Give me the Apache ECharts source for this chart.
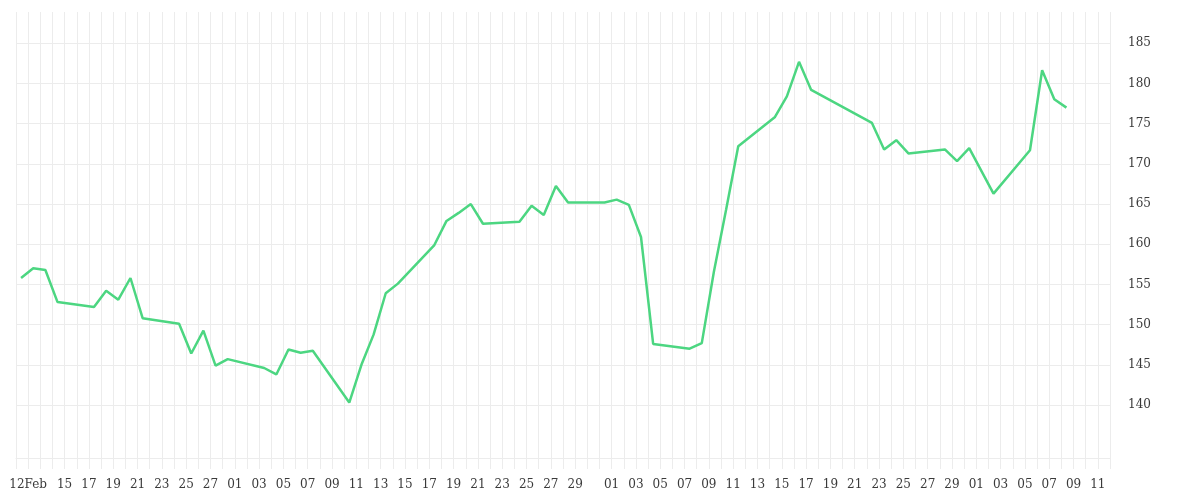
<!DOCTYPE html>
<html>
<head>
<meta charset="utf-8">
<script src="https://cdn.jsdelivr.net/npm/echarts@6/dist/echarts.min.js"></script>
<style>
html,body{margin:0;padding:0;background:#fff;}
#chart{width:1200px;height:500px;}
</style>
</head>
<body>
<div id="chart"></div>
<script>
// Trading dates (2025) and closing values
var dates = [
  '2025-02-11','2025-02-12','2025-02-13','2025-02-14','2025-02-17','2025-02-18','2025-02-19','2025-02-20','2025-02-21',
  '2025-02-24','2025-02-25','2025-02-26','2025-02-27','2025-02-28',
  '2025-03-03','2025-03-04','2025-03-05','2025-03-06','2025-03-07',
  '2025-03-10','2025-03-11','2025-03-12','2025-03-13','2025-03-14',
  '2025-03-17','2025-03-18','2025-03-19','2025-03-20','2025-03-21',
  '2025-03-24','2025-03-25','2025-03-26','2025-03-27','2025-03-28',
  '2025-03-31','2025-04-01','2025-04-02','2025-04-03','2025-04-04',
  '2025-04-07','2025-04-08','2025-04-09','2025-04-10','2025-04-11',
  '2025-04-14','2025-04-15','2025-04-16','2025-04-17',
  '2025-04-22','2025-04-23','2025-04-24','2025-04-25',
  '2025-04-28','2025-04-29','2025-04-30','2025-05-02',
  '2025-05-05','2025-05-06','2025-05-07','2025-05-08'
];
var values = [
  155.8, 157.0, 156.8, 152.8, 152.2, 154.2, 153.1, 155.8, 150.8,
  150.1, 146.4, 149.25, 144.9, 145.7,
  144.6, 143.8, 146.9, 146.5, 146.75,
  140.3, 145.0, 148.75, 153.9, 155.1,
  159.9, 162.9, 163.9, 165.0, 162.55,
  162.8, 164.8, 163.65, 167.25, 165.2,
  165.2, 165.55, 164.9, 160.9, 147.6,
  147.0, 147.7, 156.6, 164.3, 172.2,
  175.8, 178.4, 182.7, 179.2,
  175.1, 171.8, 172.95, 171.3,
  171.8, 170.35, 171.95, 166.3,
  171.7, 181.65, 178.05, 177.0
];
var xStart = '2025-02-11';
var xEnd = '2025-05-12';
var firstLabelDate = '2025-02-12';
var yMin = 133.4, yMax = 188.9;
var yLabelMin = 140, yLabelMax = 185, yStep = 5;

var DAY = 86400000;
var MON = ['Jan','Feb','Mar','Apr','May','Jun','Jul','Aug','Sep','Oct','Nov','Dec'];
function pad(n){ return (n < 10 ? '0' : '') + n; }
var firstLabelTs = Date.parse(firstLabelDate + 'T00:00:00Z');

var seriesData = dates.map(function (d, i) {
  return [Date.parse(d + 'T10:00:00Z'), values[i]];
});

var grid = '#ececec';
var yColors = [];
// one colour per y tick: [min, 135, 140..185, max]
yColors.push(grid);
for (var v = Math.ceil(yMin / yStep) * yStep; v <= yMax; v += yStep) {
  yColors.push(v >= yLabelMin && v <= yLabelMax ? grid : 'rgba(0,0,0,0)');
}
yColors.push('rgba(0,0,0,0)');

var font = 'DejaVu Serif';
var chart = echarts.init(document.getElementById('chart'));
chart.setOption({
  animation: false,
  backgroundColor: '#fff',
  grid: { left: 16, right: 90, top: 12, bottom: 42, containLabel: false },
  xAxis: {
    type: 'value',
    min: Date.parse(xStart + 'T00:00:00Z'),
    max: Date.parse(xEnd + 'T00:00:00Z'),
    interval: DAY,
    axisLine: { show: true, lineStyle: { color: grid, width: 1 } },
    axisTick: { show: true, length: 11, lineStyle: { color: grid, width: 1 } },
    splitLine: { show: true, lineStyle: { color: grid, width: 1 } },
    axisLabel: {
      margin: 21,
      fontFamily: font,
      fontSize: 12,
      color: '#3a3a3a',
      showMinLabel: true,
      showMaxLabel: true,
      formatter: function (val) {
        var d = new Date(val);
        var day = d.getUTCDate();
        if (val === firstLabelTs) return day + MON[d.getUTCMonth()];
        if (val < firstLabelTs + 3 * DAY) return '';
        if (day % 2 === 1 && day !== 31) return pad(day);
        return '';
      }
    }
  },
  yAxis: {
    type: 'value',
    position: 'right',
    min: yMin,
    max: yMax,
    splitNumber: 10,
    axisLine: { show: false },
    axisTick: { show: false },
    splitLine: { show: true, lineStyle: { color: yColors, width: 1 } },
    axisLabel: {
      margin: 18,
      fontFamily: font,
      fontSize: 12,
      color: '#3a3a3a',
      padding: [3, 0, 0, 0],
      formatter: function (val) {
        if (val >= yLabelMin && val <= yLabelMax && Math.abs(val % yStep) < 1e-6) return String(val);
        return '';
      }
    }
  },
  series: [{
    type: 'line',
    data: seriesData,
    showSymbol: false,
    symbol: 'none',
    lineStyle: { color: '#4cd681', width: 2.5 },
    itemStyle: { color: '#4cd681' }
  }]
});
</script>
</body>
</html>
